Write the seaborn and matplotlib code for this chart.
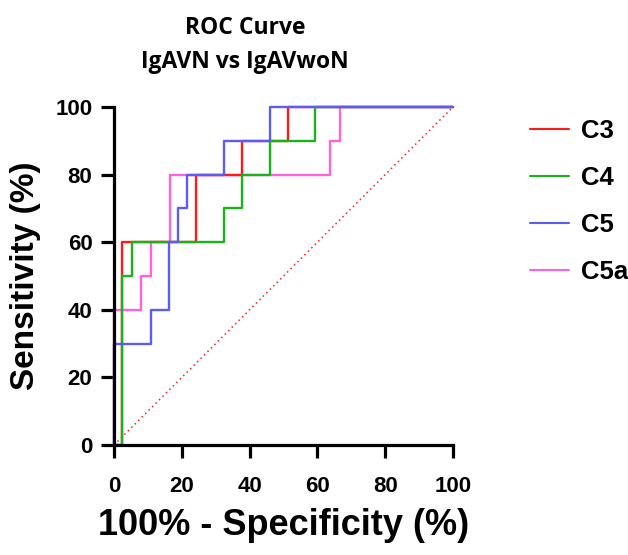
import pandas as pd
import seaborn as sns
from matplotlib import pyplot as plt

# ROC points (100% - specificity, sensitivity)
c3_fpr = [0, 2.5, 24.1, 37.8, 51.4, 100]
c3_tpr = [0, 60, 80, 90, 100, 100]

c4_fpr = [0, 2.5, 5.3, 32.4, 37.8, 46.0, 59.4, 100]
c4_tpr = [0, 50, 60, 70, 80, 90, 100, 100]

c5_fpr = [0, 0, 10.8, 16.2, 18.9, 21.6, 32.4, 46.0, 100]
c5_tpr = [0, 30, 40, 60, 70, 80, 90, 100, 100]

c5a_fpr = [0, 0, 8.1, 11.0, 16.4, 63.8, 66.6, 100]
c5a_tpr = [0, 40, 50, 60, 80, 90, 100, 100]

markers = ['C3', 'C4', 'C5', 'C5a']
colors = {'C3': '#FF1A1A', 'C4': '#18B418', 'C5': '#5C5CF2', 'C5a': '#FF62DC'}
ref_line = [0, 100]

rows = []
for name, fpr, tpr in zip(markers, [c3_fpr, c4_fpr, c5_fpr, c5a_fpr],
                          [c3_tpr, c4_tpr, c5_tpr, c5a_tpr]):
    rows += [{'Marker': name, 'FPR': x, 'TPR': y} for x, y in zip(fpr, tpr)]
df = pd.DataFrame(rows)

sns.set_theme(style="ticks")
plt.rcParams['font.family'] = ['Liberation Sans', 'DejaVu Sans']
plt.rcParams['font.weight'] = 'bold'
for key in ['text.color', 'axes.labelcolor', 'xtick.color', 'ytick.color']:
    plt.rcParams[key] = 'black'

fig = plt.figure(figsize=(6.28, 5.55), dpi=100)
ax = fig.add_axes([114 / 628, 1 - 445 / 555, 339 / 628, 338 / 555])

# chance line
sns.lineplot(x=ref_line, y=ref_line, ax=ax, color='#FF2020', lw=1.1,
             linestyle=(0, (1, 2.2)), legend=False, zorder=1)

# draw order: C5a at the bottom, C5 on top
draw_order = ['C5a', 'C3', 'C4', 'C5']
handles = {}
for z, name in enumerate(draw_order):
    sub = df[df['Marker'] == name]
    sns.lineplot(data=sub, x='FPR', y='TPR', ax=ax, color=colors[name], lw=1.7,
                 drawstyle='steps-post', estimator=None, sort=False,
                 clip_on=False, zorder=2 + z * 0.1, legend=False)
    handles[name] = ax.lines[-1]

ax.set_xlim(0, 100)
ax.set_ylim(0, 100)
ax.set_xticks(range(0, 101, 20))
ax.set_yticks(range(0, 101, 20))
sns.despine(ax=ax)
for s in ['left', 'bottom']:
    ax.spines[s].set_linewidth(2.3)
    ax.spines[s].set_color('black')
    ax.spines[s].set_zorder(3)
ax.tick_params(axis='both', length=9.5, width=2.3, color='black', labelsize=16)
ax.tick_params(axis='x', pad=13)
ax.tick_params(axis='y', pad=6)
for lab in ax.get_xticklabels() + ax.get_yticklabels():
    lab.set_fontweight('bold')

ax.set_xlabel('100% - Specificity (%)', fontsize=26, fontweight='bold', labelpad=8)
ax.set_ylabel('Sensitivity (%)', fontsize=24, fontweight='bold', labelpad=10)

title_font = ['Open Sans', 'DejaVu Sans']
fig.text(245 / 628, 1 - 34 / 555, 'ROC Curve', ha='center', va='baseline',
         fontsize=16.5, fontweight='bold', family=title_font)
fig.text(245 / 628, 1 - 68 / 555, 'IgAVN vs IgAVwoN', ha='center', va='baseline',
         fontsize=16.5, fontweight='bold', family=title_font)

leg = fig.legend([handles[m] for m in markers], markers, loc='upper left',
                 bbox_to_anchor=(530 / 628, 1 - 119 / 555), frameon=False,
                 fontsize=18.5, handlelength=1.5, handletextpad=0.5,
                 labelspacing=0.9, borderpad=0, borderaxespad=0)
for t in leg.get_texts():
    t.set_fontweight('bold')
for l in leg.get_lines():
    l.set_linewidth(1.5)

fig.savefig('out.png', dpi=100)
